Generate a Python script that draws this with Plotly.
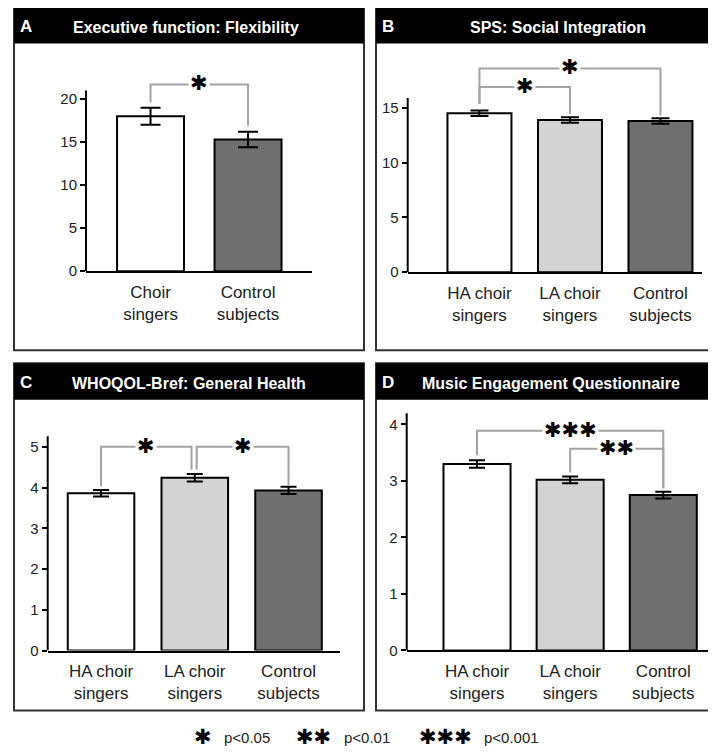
import plotly.graph_objects as go

W, H = 716, 755
OFF = 8  # the page is drawn with the browser's default 8px body margin

# ---------------- data ----------------
a_categories = ["Choir<br>singers", "Control<br>subjects"]
a_means = [18.0, 15.3]
a_sems = [1.0, 0.9]
a_yticks = [0, 5, 10, 15, 20]

b_categories = ["HA choir<br>singers", "LA choir<br>singers", "Control<br>subjects"]
b_means = [14.5, 13.9, 13.8]
b_sems = [0.25, 0.25, 0.25]
b_yticks = [0, 5, 10, 15]

c_categories = ["HA choir<br>singers", "LA choir<br>singers", "Control<br>subjects"]
c_means = [3.86, 4.24, 3.93]
c_sems = [0.08, 0.09, 0.09]
c_yticks = [0, 1, 2, 3, 4, 5]

d_categories = ["HA choir<br>singers", "LA choir<br>singers", "Control<br>subjects"]
d_means = [3.30, 3.02, 2.75]
d_sems = [0.065, 0.06, 0.06]
d_yticks = [0, 1, 2, 3, 4]

STAR_CH = "✱"
# significance brackets: (x1, x2, level, leg1 bottom, leg2 bottom, number of stars)
a_brackets = [(0, 1, 21.7, 19.6, 16.9, 1)]
b_brackets = [(0, 2, 18.6, 15.35, 14.3, 1), (0, 1, 16.9, 15.35, 14.45, 1)]
c_brackets = [(0, 0.965, 5.0, 4.03, 4.44, 1), (1.02, 2, 5.0, 4.44, 4.06, 1)]
d_brackets = [(0, 2, 3.89, 3.455, 2.87, 3), (1, 2, 3.57, 3.15, 2.87, 2)]

legend_labels = ["p<0.05", "p<0.01", "p<0.001"]
legend_stars = [1, 2, 3]

WHITE, LIGHT, DARK = "#ffffff", "#d3d3d3", "#6f6f6f"

panels = [
    dict(letter="A", title="Executive function: Flexibility", cats=a_categories, means=a_means,
         sems=a_sems, ticks=a_yticks, brackets=a_brackets, colors=[WHITE, DARK],
         frame=(14, 7, 364, 354), title_cx=186,
         axpx=(86, 312), y0=274, ppu=8.7, ymax=24.5, axis_top=21.0,
         xr=(-0.662, 1.656), bw=0.687, cap=10),
    dict(letter="B", title="SPS: Social Integration", cats=b_categories, means=b_means,
         sems=b_sems, ticks=b_yticks, brackets=b_brackets, colors=[WHITE, LIGHT, DARK],
         frame=(376, 7, 726, 354), title_cx=558,
         axpx=(407.7, 702), y0=275, ppu=11.07, ymax=19.8, axis_top=15.9,
         xr=(-0.793, 2.459), bw=0.707, cap=9),
    dict(letter="C", title="WHOQOL-Bref: General Health", cats=c_categories, means=c_means,
         sems=c_sems, ticks=c_yticks, brackets=c_brackets, colors=[WHITE, LIGHT, DARK],
         frame=(14, 367, 364, 718), title_cx=189,
         axpx=(47.7, 340), y0=657.5, ppu=41.2, ymax=5.7, axis_top=5.26,
         xr=(-0.569, 2.549), bw=0.71, cap=8),
    dict(letter="D", title="Music Engagement Questionnaire", cats=d_categories, means=d_means,
         sems=d_sems, ticks=d_yticks, brackets=d_brackets, colors=[WHITE, LIGHT, DARK],
         frame=(376, 367, 726, 718), title_cx=551,
         axpx=(406.7, 713), y0=657.3, ppu=57.1, ymax=4.3, axis_top=4.2,
         xr=(-0.755, 2.534), bw=0.72, cap=8),
]

def px(x):
    return (x - OFF) / W

def py(y):
    return 1 - (y - OFF) / H

SANS = "Liberation Sans, Arial, sans-serif"
STAR = "DejaVu Sans"

fig = go.Figure()
layout = dict(width=W, height=H, margin=dict(l=0, r=0, t=0, b=0),
              paper_bgcolor="white", plot_bgcolor="rgba(0,0,0,0)",
              showlegend=False, font=dict(family=SANS, color="#222"))
shapes, annotations = [], []

for i, p in enumerate(panels, start=1):
    sx = "" if i == 1 else str(i)
    xa, ya = "x" + sx, "y" + sx
    n = len(p["cats"])
    xs = list(range(n))
    fig.add_trace(go.Bar(
        x=xs, y=p["means"], width=p["bw"], xaxis=xa, yaxis=ya,
        marker=dict(color=p["colors"], line=dict(color="black", width=2)),
        error_y=dict(type="data", array=p["sems"], color="black", thickness=2, width=p["cap"]),
        hoverinfo="skip"))
    l, r = p["axpx"]
    top_px = p["y0"] - p["ppu"] * p["ymax"]
    layout["xaxis" + sx] = dict(domain=[px(l), min(px(r), 1.0)], range=list(p["xr"]), anchor=ya,
                                tickvals=xs, ticktext=p["cats"], showline=True, linecolor="black",
                                linewidth=2, ticks="outside", ticklen=4, tickcolor="rgba(0,0,0,0)",
                                showgrid=False, zeroline=False,
                                tickfont=dict(size=17, family=SANS, color="#222"))
    layout["yaxis" + sx] = dict(domain=[py(p["y0"]), py(top_px)], range=[0, p["ymax"]], anchor=xa,
                                tickvals=p["ticks"], showline=False, ticks="outside", ticklen=5,
                                tickwidth=1.5, tickcolor="black", showgrid=False, zeroline=False,
                                tickfont=dict(size=15, family=SANS, color="#222"))
    # y axis line (stops at the axis top, below the brackets)
    shapes.append(dict(type="line", xref=xa + " domain", yref=ya, x0=0, x1=0, y0=0,
                       y1=p["axis_top"], line=dict(color="black", width=2)))
    # frame + header
    fl, ft, fr, fb = p["frame"]
    shapes.append(dict(type="rect", xref="paper", yref="paper", x0=px(fl), x1=px(fr),
                       y0=py(fb), y1=py(ft), line=dict(color="#333", width=2), fillcolor="rgba(0,0,0,0)"))
    shapes.append(dict(type="rect", xref="paper", yref="paper", x0=px(fl), x1=px(fr),
                       y0=py(ft + 37), y1=py(ft), line=dict(width=0), fillcolor="black"))
    annotations.append(dict(xref="paper", yref="paper", x=px(fl + 4), y=py(ft + 20),
                            text="<b>%s</b>" % p["letter"], showarrow=False, xanchor="left",
                            yanchor="middle", font=dict(size=17, color="white", family=SANS)))
    annotations.append(dict(xref="paper", yref="paper", x=px(p["title_cx"]), y=py(ft + 21),
                            text="<b>%s</b>" % p["title"], showarrow=False, xanchor="center",
                            yanchor="middle", font=dict(size=16, color="white", family=SANS)))
    # brackets
    for (x1, x2, lvl, b1, b2, k) in p["brackets"]:
        shapes.append(dict(type="path", xref=xa, yref=ya,
                           path="M %s,%s L %s,%s L %s,%s L %s,%s" % (x1, b1, x1, lvl, x2, lvl, x2, b2),
                           line=dict(color="#a3a3a3", width=2)))
        annotations.append(dict(xref=xa, yref=ya, x=(x1 + x2) / 2, y=lvl, text=STAR_CH * k,
                                showarrow=False, xanchor="center", yanchor="middle",
                                bgcolor="white", borderpad=1, height=16, yshift=1,
                                font=dict(size=21, color="black", family=STAR)))

# legend row
legend_star_x = [202.5, 313.5, 445.5]
legend_text_x = [222, 342, 482]
for k, t, sx_, tx_ in zip(legend_stars, legend_labels, legend_star_x, legend_text_x):
    annotations.append(dict(xref="paper", yref="paper", x=px(sx_), y=py(745), text=STAR_CH * k,
                            showarrow=False, xanchor="center", yanchor="middle",
                            font=dict(size=21, color="black", family=STAR)))
    annotations.append(dict(xref="paper", yref="paper", x=px(tx_), y=py(745),
                            text=t.replace("<", "&lt;"), showarrow=False, xanchor="left",
                            yanchor="middle", font=dict(size=15, color="#222", family=SANS)))

layout["shapes"] = shapes
layout["annotations"] = annotations
fig.update_layout(**layout)
fig.write_html("out.html")
